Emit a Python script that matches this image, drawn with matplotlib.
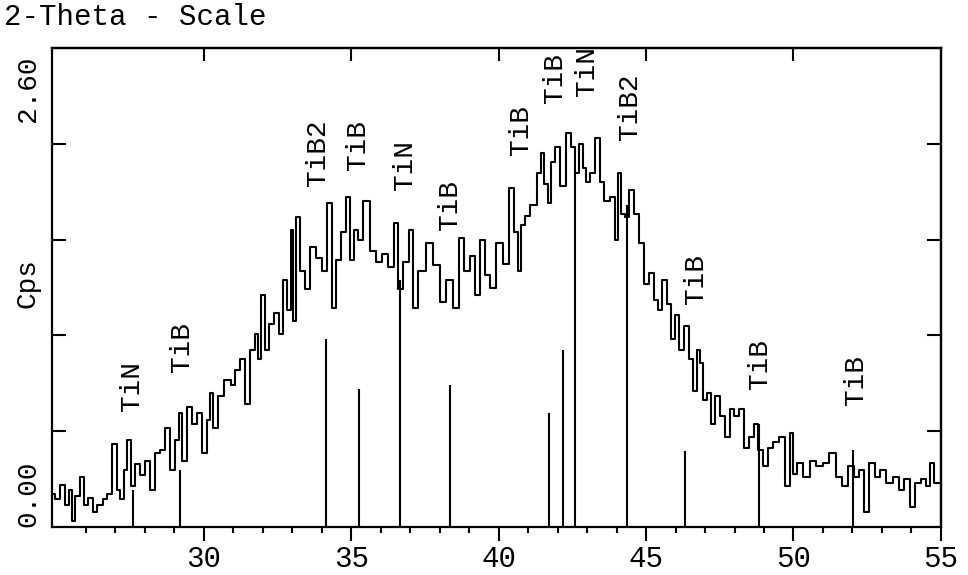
import numpy as np
import matplotlib
matplotlib.use('Agg')
import matplotlib.pyplot as plt

# dados (difratograma)
two_theta = [24.9, 25.02, 25.2, 25.35, 25.5, 25.56, 25.7, 25.9, 26.0, 26.15,
             26.3, 26.48, 26.65, 26.8, 26.99, 27.1, 27.22, 27.35, 27.46, 27.6,
             27.75, 27.93, 28.1, 28.25, 28.41, 28.6, 28.78, 28.95, 29.1, 29.19,
             29.36, 29.53, 29.7, 29.87, 30.04, 30.15, 30.27, 30.38, 30.55, 30.82,
             31.0, 31.12, 31.32, 31.49, 31.66, 31.8, 31.9, 32.0, 32.14, 32.3,
             32.48, 32.6, 32.75, 32.9, 32.99, 33.09, 33.19, 33.36, 33.53, 33.7,
             33.93, 34.1, 34.27, 34.44, 34.54, 34.78, 34.88, 35.02, 35.15, 35.29,
             35.53, 35.73, 35.95, 36.14, 36.35, 36.54, 36.65, 36.88, 37.05, 37.15,
             37.39, 37.66, 37.9, 38.1, 38.34, 38.58, 38.75, 38.92, 39.12, 39.29,
             39.46, 39.62, 39.77, 40.04, 40.27, 40.41, 40.61, 40.71, 40.83, 40.95,
             41.19, 41.39, 41.49, 41.6, 41.73, 41.83, 42.0, 42.17, 42.38, 42.51,
             42.65, 42.82, 42.92, 43.02, 43.19, 43.36, 43.49, 43.66, 43.87, 44.0,
             44.1, 44.2, 44.34, 44.51, 44.68, 44.85, 45.02, 45.19, 45.36, 45.46,
             45.63, 45.8, 45.9, 46.04, 46.21, 46.38, 46.55, 46.65, 46.78, 46.88,
             46.99, 47.16, 47.26, 47.43, 47.6, 47.77, 47.9, 48.07, 48.24, 48.41,
             48.58, 48.75, 48.85, 49.09, 49.19, 49.43, 49.6, 49.8, 49.93, 50.04,
             50.21, 50.44, 50.65, 50.88, 51.12, 51.32, 51.56, 51.73, 51.97, 52.14,
             52.31, 52.48, 52.65, 52.85, 53.02, 53.26, 53.49, 53.66, 53.87, 54.04,
             54.2, 54.44, 54.54, 54.71, 54.85, 55.0]

cps = [0.18, 0.15, 0.23, 0.12, 0.20, 0.03, 0.17, 0.27, 0.12, 0.16,
       0.08, 0.12, 0.15, 0.18, 0.45, 0.20, 0.15, 0.31, 0.47, 0.22,
       0.34, 0.28, 0.36, 0.20, 0.40, 0.42, 0.54, 0.31, 0.47, 0.62,
       0.36, 0.65, 0.56, 0.62, 0.40, 0.58, 0.73, 0.54, 0.71, 0.80,
       0.77, 0.85, 0.91, 0.67, 0.96, 1.05, 0.91, 1.26, 0.96, 1.10,
       1.16, 1.05, 1.34, 1.18, 1.61, 1.12, 1.68, 1.39, 1.29, 1.52,
       1.46, 1.39, 1.76, 1.19, 1.45, 1.60, 1.79, 1.45, 1.61, 1.56,
       1.77, 1.50, 1.44, 1.48, 1.41, 1.65, 1.29, 1.44, 1.61, 1.19,
       1.39, 1.54, 1.42, 1.22, 1.34, 1.19, 1.57, 1.39, 1.47, 1.26,
       1.56, 1.37, 1.30, 1.54, 1.43, 1.84, 1.60, 1.39, 1.64, 1.69,
       1.75, 1.92, 2.03, 1.86, 1.76, 1.98, 2.06, 1.85, 2.14, 2.06,
       1.92, 2.08, 1.95, 1.87, 1.92, 2.11, 1.87, 1.77, 1.79, 1.56,
       1.92, 1.70, 1.68, 1.83, 1.70, 1.54, 1.32, 1.38, 1.23, 1.18,
       1.34, 1.21, 1.02, 1.15, 0.96, 1.09, 0.91, 0.74, 0.96, 0.89,
       0.69, 0.73, 0.56, 0.71, 0.60, 0.49, 0.64, 0.60, 0.64, 0.43,
       0.49, 0.56, 0.42, 0.33, 0.43, 0.46, 0.49, 0.22, 0.51, 0.29,
       0.35, 0.27, 0.36, 0.33, 0.35, 0.40, 0.27, 0.22, 0.33, 0.27,
       0.31, 0.08, 0.35, 0.27, 0.31, 0.24, 0.27, 0.20, 0.26, 0.11,
       0.24, 0.26, 0.22, 0.35, 0.24, 0.24]

# linhas de referencia das fases
fase_pos = [27.6, 29.2, 34.16, 35.27, 36.65, 38.34, 41.71, 42.18, 42.59, 44.35, 46.33, 48.83, 52.01]
fase_alt = [0.20, 0.31, 1.02, 0.75, 1.34, 0.77, 0.62, 0.96, 1.94, 1.75, 0.41, 0.56, 0.42]
fase_nome = ['TiN', 'TiB', 'TiB2', 'TiB', 'TiN', 'TiB', 'TiB', 'TiB', 'TiN', 'TiB2', 'TiB', 'TiB', 'TiB']
rotulo_x = [27.56, 29.26, 33.87, 35.22, 36.82, 38.34, 40.77, 41.90, 43.00, 44.44, 46.71, 48.87, 52.13]
rotulo_y = [0.63, 0.84, 1.85, 1.94, 1.83, 1.61, 2.02, 2.30, 2.34, 2.10, 1.21, 0.75, 0.66]

x_ticks = [30, 35, 40, 45, 50, 55]
y_ticks = [0.52, 1.04, 1.56, 2.08]

plt.rcParams['font.family'] = ['Liberation Mono', 'DejaVu Sans Mono']

fig = plt.figure(figsize=(9.68, 5.75), dpi=100)
ax = fig.add_axes([0.0537, 0.0835, 0.9183, 0.833])

ax.plot(two_theta, cps, color='black', linewidth=1.5, drawstyle='steps-mid')
ax.vlines(fase_pos, 0, fase_alt, color='black', linewidth=1.5)

for nome, xr, yr in zip(fase_nome, rotulo_x, rotulo_y):
    ax.text(xr, yr, nome, rotation=90, ha='center', va='bottom', fontsize=20, clip_on=True)

ax.set_xlim(24.85, 55)
ax.set_ylim(0, 2.6)

for s in ax.spines.values():
    s.set_linewidth(1.6)

ax.set_xticks(x_ticks)
ax.set_xticklabels([str(t) for t in x_ticks], fontsize=21)
ax.set_xticks(np.arange(26, 55, 1), minor=True)
ax.tick_params(axis='x', which='major', direction='out', length=10, width=1.5, pad=3)
ax.tick_params(axis='x', which='minor', direction='out', length=4, width=1.5)

ax.set_yticks(y_ticks)
ax.set_yticklabels([])
ax.tick_params(axis='y', direction='in', length=10, width=1.5)

topo = ax.secondary_xaxis('top')
topo.set_xticks(x_ticks[:-1])
topo.set_xticklabels([])
topo.tick_params(direction='in', length=9, width=1.5)
topo.spines['top'].set_linewidth(1.6)

direita = ax.secondary_yaxis('right')
direita.set_yticks(y_ticks)
direita.set_yticklabels([])
direita.tick_params(direction='in', length=10, width=1.5)
direita.spines['right'].set_linewidth(1.6)

ax.text(-0.027, 0.985, '2.60', transform=ax.transAxes, rotation=90, ha='center', va='top', fontsize=20)
ax.text(-0.027, 0.0, '0.00', transform=ax.transAxes, rotation=90, ha='center', va='bottom', fontsize=20)
ax.text(-0.027, 0.51, 'Cps', transform=ax.transAxes, rotation=90, ha='center', va='center', fontsize=20)

fig.text(0.004, 0.995, '2-Theta - Scale', ha='left', va='top', fontsize=21)

fig.savefig('out.png', dpi=100)
